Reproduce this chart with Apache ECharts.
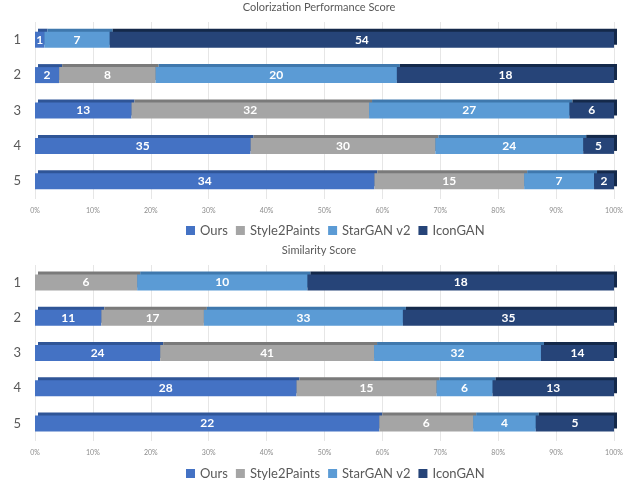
<!DOCTYPE html>
<html>
<head>
<meta charset="utf-8">
<script src="https://cdn.jsdelivr.net/npm/echarts@6/dist/echarts.min.js"></script>
<style>
  html, body { margin: 0; padding: 0; background: #fff; }
  #chart { width: 638px; height: 483px; }
</style>
</head>
<body>
<div id="chart"></div>
<script>
var rows = ['1', '2', '3', '4', '5'];
var methods = ['Ours', 'Style2Paints', 'StarGAN v2', 'IconGAN'];
var ticks = ['0%', '10%', '20%', '30%', '40%', '50%', '60%', '70%', '80%', '90%', '100%'];

// Colorization Performance Score, one array per method (rows 1..5)
var colorOurs = [1, 2, 13, 35, 34];
var colorStyle = [0, 8, 32, 30, 15];
var colorStar = [7, 20, 27, 24, 7];
var colorIcon = [54, 18, 6, 5, 2];

// Similarity Score
var simOurs = [0, 11, 24, 28, 22];
var simStyle = [6, 17, 41, 15, 6];
var simStar = [10, 33, 32, 6, 4];
var simIcon = [18, 35, 14, 13, 5];

var faceColors = ['#4472C4', '#A5A5A5', '#5B9BD5', '#264478'];
var topColors = ['#2F5597', '#7A7A7A', '#3F78AD', '#14294A'];
var fontName = 'Lato';

function buildSeries(sets, gridIdx) {
    var totals = rows.map(function (r, i) {
        return sets.reduce(function (s, arr) { return s + arr[i]; }, 0);
    });
    return sets.map(function (arr, k) {
        return {
            name: methods[k],
            type: 'bar',
            stack: 'g' + gridIdx,
            xAxisIndex: gridIdx,
            yAxisIndex: gridIdx,
            barWidth: 16,
            itemStyle: {
                color: faceColors[k],
                shadowColor: topColors[k],
                shadowBlur: 0,
                shadowOffsetX: 3,
                shadowOffsetY: -3
            },
            label: {
                show: true,
                position: 'inside',
                color: '#fff',
                fontFamily: fontName,
                fontWeight: 'bold',
                fontSize: 12,
                formatter: function (p) {
                    var v = arr[p.dataIndex];
                    return v ? String(v) : '';
                }
            },
            data: arr.map(function (v, i) { return v / totals[i] * 100; })
        };
    });
}

function xAxisFor(gridIdx) {
    return {
        type: 'value',
        gridIndex: gridIdx,
        min: 0,
        max: 100,
        interval: 10,
        axisLine: { show: false },
        axisTick: { show: false },
        splitLine: { lineStyle: { color: '#E6E6E6' } },
        axisLabel: {
            color: '#8C8C8C',
            fontSize: 7,
            fontFamily: fontName,
            margin: 8,
            formatter: function (v) { return ticks[Math.round(v / 10)]; }
        }
    };
}

function yAxisFor(gridIdx) {
    return {
        type: 'category',
        gridIndex: gridIdx,
        data: rows,
        inverse: true,
        axisLine: { show: false },
        axisTick: { show: false },
        axisLabel: { color: '#595959', fontSize: 13, fontFamily: fontName, margin: 14 }
    };
}

function legendAt(top) {
    return {
        top: top,
        left: 181,
        itemWidth: 9,
        itemHeight: 9,
        itemGap: 8,
        icon: 'rect',
        data: methods,
        textStyle: { color: '#595959', fontSize: 13, fontFamily: fontName }
    };
}

var chart = echarts.init(document.getElementById('chart'));
chart.setOption({
    backgroundColor: '#fff',
    animation: false,
    title: [
        { text: 'Colorization Performance Score', left: 'center', top: -3,
          textStyle: { color: '#595959', fontSize: 11, fontWeight: 'normal', fontFamily: fontName } },
        { text: 'Similarity Score', left: 'center', top: 240,
          textStyle: { color: '#595959', fontSize: 11, fontWeight: 'normal', fontFamily: fontName } }
    ],
    legend: [legendAt(219), legendAt(462)],
    grid: [
        { left: 35, right: 24, top: 22, height: 177 },
        { left: 35, right: 24, top: 265, height: 176 }
    ],
    xAxis: [xAxisFor(0), xAxisFor(1)],
    yAxis: [yAxisFor(0), yAxisFor(1)],
    series: buildSeries([colorOurs, colorStyle, colorStar, colorIcon], 0)
        .concat(buildSeries([simOurs, simStyle, simStar, simIcon], 1))
});
</script>
</body>
</html>
